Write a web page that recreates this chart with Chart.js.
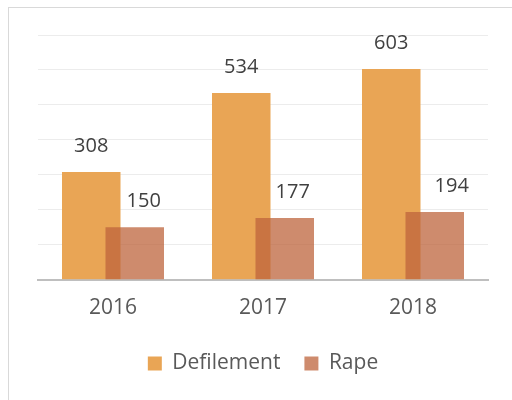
<!DOCTYPE html>
<html>
<head>
<meta charset="utf-8">
<script src="https://cdn.jsdelivr.net/npm/chart.js@4"></script>
<style>
  html, body { margin: 0; padding: 0; background: #fff; }
  #wrap { position: relative; width: 512px; height: 400px; overflow: hidden; }
  #frame { position: absolute; left: 8px; top: 7px; right: -2px; bottom: -2px; border-left: 1px solid #d9d9d9; border-top: 1px solid #d9d9d9; }
  canvas { position: absolute; left: 0; top: 0; }
</style>
</head>
<body>
<div id="wrap">
  <div id="frame"></div>
  <canvas id="chart" width="512" height="400"></canvas>
</div>
<script>
// values
const years = ['2016', '2017', '2018'];
const defilement = [308, 534, 603];
const rape = [150, 177, 194];

// labels of the Rape bars sit a bit to the right in the original
const labelShift = [[0, 0, 0], [9, 8, 17]];

// Rape bars sit on top of the Defilement ones (overlap), then value labels
const overlapBars = {
  id: 'overlapBars',
  beforeDatasetDraw(chart, args) {
    if (args.index === 1) return false;
  },
  afterDatasetsDraw(chart) {
    const ctx = chart.ctx;
    chart.getDatasetMeta(1).data.forEach(bar => bar.draw(ctx));
    ctx.save();
    ctx.font = '20px "Open Sans", sans-serif';
    ctx.fillStyle = '#404040';
    ctx.textAlign = 'center';
    ctx.textBaseline = 'middle';
    chart.data.datasets.forEach((ds, i) => {
      chart.getDatasetMeta(i).data.forEach((bar, j) => {
        ctx.fillText(ds.data[j], bar.x + labelShift[i][j], bar.y - 26);
      });
    });
    ctx.restore();
  }
};

const setupChart = () => {
  const ctx = document.getElementById('chart').getContext('2d');
  new Chart(ctx, {
    type: 'bar',
    data: {
      labels: years,
      datasets: [{
        label: 'Defilement',
        data: defilement,
        backgroundColor: '#e9a555',
        borderWidth: 0
      }, {
        label: 'Rape',
        data: rape,
        backgroundColor: 'rgba(190,100,60,0.75)',
        borderWidth: 0
      }]
    },
    options: {
      responsive: false,
      animation: false,
      categoryPercentage: 0.58,
      barPercentage: 1.345,
      layout: { padding: { left: 38, right: 24, top: 35, bottom: 16 } },
      scales: {
        x: {
          grid: { display: false },
          border: { color: '#bfbfbf', width: 2 },
          ticks: { color: '#595959', font: { family: 'Open Sans', size: 21 }, padding: 8 }
        },
        y: {
          min: 0,
          max: 700,
          ticks: { display: false, stepSize: 100 },
          grid: { color: '#ececec', drawTicks: false },
          border: { display: false }
        }
      },
      plugins: {
        legend: {
          position: 'bottom',
          labels: { color: '#595959', font: { family: 'Open Sans', size: 21 }, boxWidth: 14, boxHeight: 14, padding: 24 }
        },
        tooltip: { enabled: false }
      }
    },
    plugins: [overlapBars]
  });
};
document.addEventListener('DOMContentLoaded', () => {
  setupChart();
});
</script>
</body>
</html>
